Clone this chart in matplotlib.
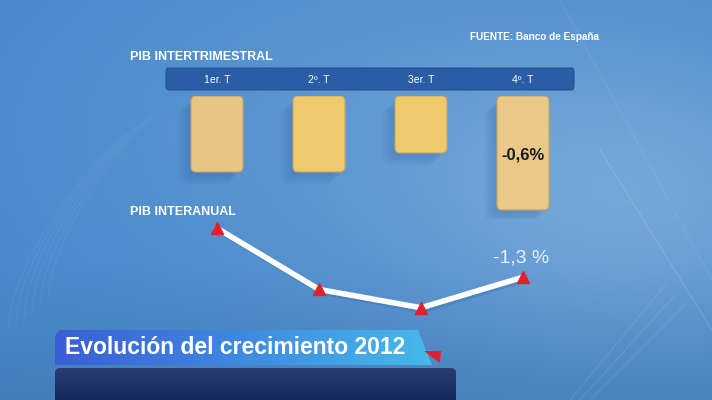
import numpy as np
import matplotlib.pyplot as plt
from matplotlib.patches import FancyBboxPatch, Polygon
from matplotlib.colors import LinearSegmentedColormap

plt.rcParams['font.family'] = ['Liberation Sans', 'DejaVu Sans']

# ---------------- datos ----------------
trimestres = ['1er. T', '2º. T', '3er. T', '4º. T']
pib_intertrimestral = [-0.4, -0.4, -0.3, -0.6]
pib_interanual = [-0.5, -1.5, -1.8, -1.3]
etiqueta_inter = '-0,6%'
etiqueta_anual = '-1,3 %'
titulo = 'Evolución del crecimiento 2012'
fuente = 'FUENTE: Banco de España'

W, H = 712, 400
fig = plt.figure(figsize=(W / 100, H / 100), dpi=100)

# ---------------- fondo (degradado azul) ----------------
bg = fig.add_axes([0, 0, 1, 1])
bg.set_xlim(0, W)
bg.set_ylim(H, 0)
bg.axis('off')
yy, xx = np.mgrid[0:H, 0:W]
base = np.array([72, 137, 204]) / 255
glow = np.exp(-(((xx - 650) / 240) ** 2 + ((yy - 200) / 160) ** 2))
glow2 = np.exp(-(((xx - 380) / 320) ** 2 + ((yy - 130) / 190) ** 2))
dark = np.clip((yy - 260) / 140, 0, 1)
img = np.zeros((H, W, 3))
for i in range(3):
    img[..., i] = base[i] + 0.2 * glow * (1 - base[i]) + 0.1 * glow2 * (1 - base[i]) - 0.08 * dark * base[i]
bg.imshow(np.clip(img, 0, 1), extent=[0, W, H, 0], aspect='auto', zorder=0)

# lineas finas decorativas
bg.plot([600, 712], [150, 330], color='white', alpha=0.14, lw=0.8, zorder=1)
bg.plot([560, 712], [0, 280], color='white', alpha=0.08, lw=0.8, zorder=1)
for off in range(0, 30, 10):
    bg.plot([570 + off, 665 + off], [400, 285 + off], color='white', alpha=0.10, lw=0.8, zorder=1)
for k in range(6):
    t = np.linspace(0, 1, 50)
    bg.plot(8 + k * 8 + 110 * t, 330 - 190 * t ** 0.6 - k * 6, color='white', alpha=0.06, lw=0.8, zorder=1)

# textos superiores
bg.text(470, 37, fuente, color='white', fontsize=7.2, fontweight='bold', va='center', ha='left', zorder=5)
bg.text(130, 57, 'PIB INTERTRIMESTRAL', color='white', fontsize=9, fontweight='bold', va='center', ha='left', zorder=5)
bg.text(130, 212, 'PIB INTERANUAL', color='white', fontsize=9, fontweight='bold', va='center', ha='left', zorder=5)

# banda de título y recuadro oscuro
grad = np.linspace(0, 1, 256)[None, :]
cm_title = LinearSegmentedColormap.from_list('t', ['#3b5ed6', '#3f8ae0', '#46b9ec'])
title_img = bg.imshow(grad, extent=[55, 432, 365, 330], cmap=cm_title, aspect='auto', zorder=3)
poly = Polygon([[55, 336], [60, 330], [418, 330], [432, 365], [55, 365]], closed=True,
               facecolor='none', edgecolor='none')
bg.add_patch(poly)
title_img.set_clip_path(poly)
bg.add_patch(Polygon([[424, 351], [441, 351], [440, 363]], closed=True, facecolor='#e0202a',
                     edgecolor='none', zorder=4))
bg.text(65, 348, titulo, color='white', fontsize=16.5, fontweight='bold', va='center', ha='left', zorder=5)
cm_dark = LinearSegmentedColormap.from_list('d', ['#2a3e72', '#16285a'])
box = bg.imshow(np.linspace(0, 1, 64)[:, None], extent=[55, 456, 400, 368], cmap=cm_dark, aspect='auto', zorder=3)
box_patch = FancyBboxPatch((55, 368), 401, 40, boxstyle='round,pad=0,rounding_size=5',
                           facecolor='none', edgecolor='none', transform=bg.transData)
bg.add_patch(box_patch)
box.set_clip_path(box_patch)

# ---------------- barras PIB intertrimestral ----------------
ax = fig.add_axes([166 / W, 1 - 219.5 / H, 408 / W, 123.5 / H])
ax.set_xlim(-0.5, 3.5)
ax.set_ylim(-0.65, 0)
ax.patch.set_alpha(0)
for s in ax.spines.values():
    s.set_visible(False)
x = np.arange(len(trimestres))
bars = ax.bar(x, pib_intertrimestral, width=0.51, color='none')
bar_colors = ['#e8c583', '#efca6c', '#efca6c', '#e9c888']
for b, c in zip(bars, bar_colors):
    bx, by, bw, bh = b.get_x(), b.get_y(), b.get_width(), b.get_height()
    bot = min(by, by + bh)
    h = abs(bh)
    for k in range(4):
        ax.add_patch(FancyBboxPatch((bx - 0.03 - 0.03 * k, bot - 0.02 - 0.015 * k), bw, h,
                                    boxstyle='round,pad=0,rounding_size=0.08', mutation_aspect=0.54,
                                    facecolor='#1d4f96', alpha=0.06, edgecolor='none', zorder=1))
    ax.add_patch(FancyBboxPatch((bx, bot), bw, h, boxstyle='round,pad=0,rounding_size=0.05',
                                mutation_aspect=0.54, facecolor=c, edgecolor='#c4a462', lw=0.8, zorder=2))
ax.text(x[3], pib_intertrimestral[3] * 0.52, etiqueta_inter, color='#1a1a1a', fontsize=12,
        fontweight='bold', ha='center', va='center', zorder=3)

# cabecera con los trimestres
ax.add_patch(FancyBboxPatch((-0.5, 0.032), 4.0, 0.115, boxstyle='round,pad=0,rounding_size=0.02',
                            mutation_aspect=1.5, facecolor='#2b5ca6', edgecolor='#23508f', lw=0.8,
                            clip_on=False, zorder=2))
ax.xaxis.tick_top()
ax.xaxis.set_zorder(6)
ax.set_xticks(x)
ax.set_xticklabels(trimestres, color='white', fontsize=7.5)
ax.tick_params(axis='x', length=0, pad=8)
ax.set_yticks([])

# ---------------- linea PIB interanual ----------------
ax2 = fig.add_axes([166 / W, 0.2, 408 / W, 0.26])
ax2.set_xlim(-0.5, 3.5)
ax2.set_ylim(-2.0, -0.3)
ax2.axis('off')
ax2.plot(x + 0.02, np.array(pib_interanual) - 0.04, color='#2a5a9a', lw=4, alpha=0.25, solid_capstyle='round')
ax2.plot(x, pib_interanual, color='white', lw=4, solid_joinstyle='miter')
ax2.plot(x, pib_interanual, linestyle='none', marker='^', markersize=9, color='#e0202a')
ax2.annotate(etiqueta_anual, (x[3], pib_interanual[3]), xytext=(-1, 8), textcoords='offset points',
             ha='center', va='bottom', color='#e6f0fa', fontsize=14)

fig.savefig('out.png', dpi=100)
